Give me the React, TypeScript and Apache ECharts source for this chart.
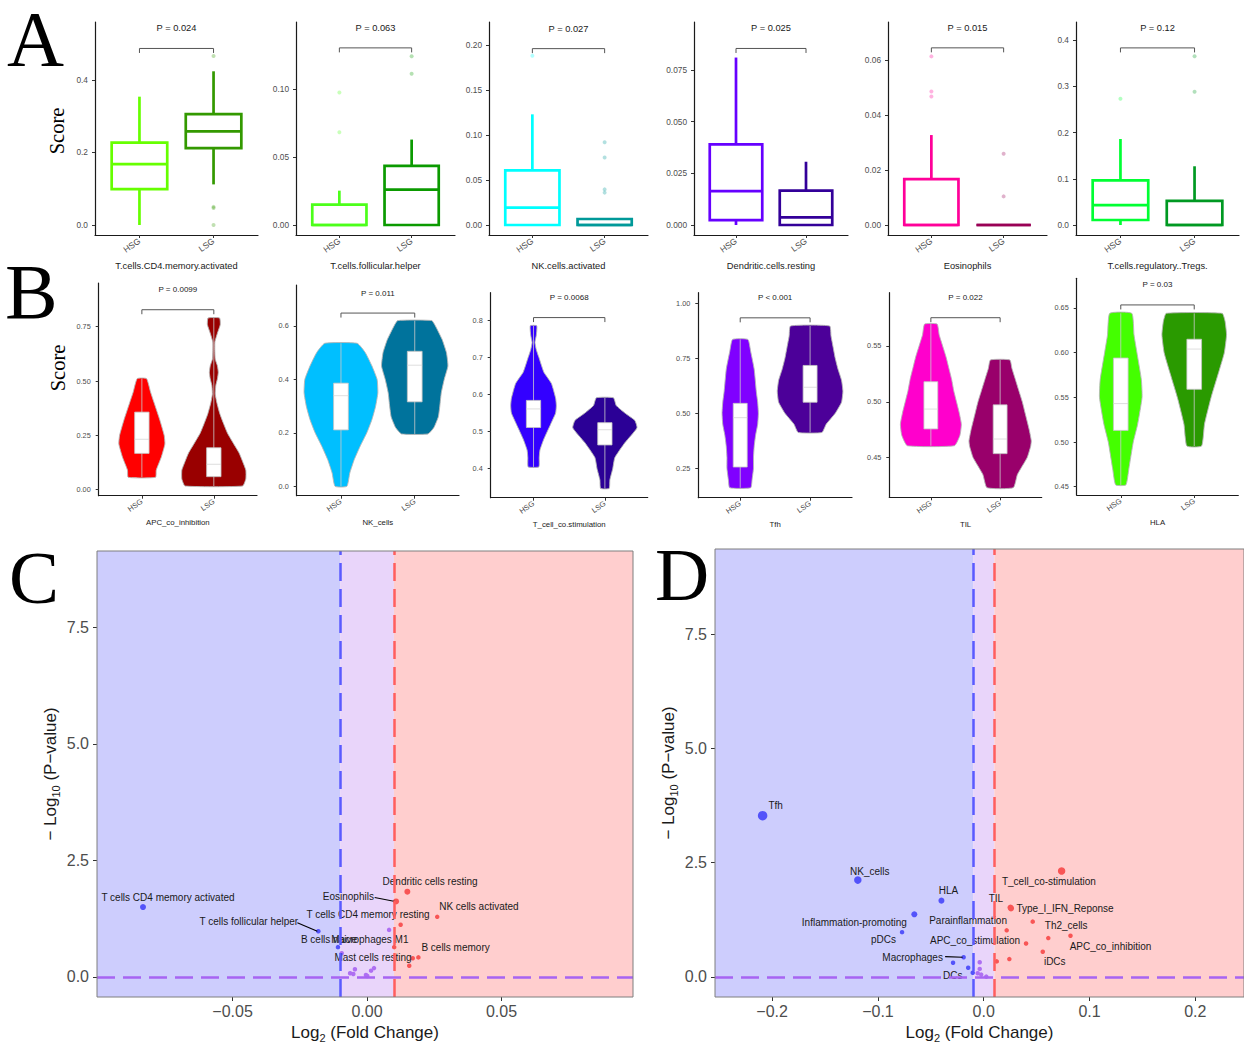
import React, { useEffect, useRef } from "react";
import * as echarts from "echarts";

const SANS = "'Liberation Sans', Arial, Helvetica, sans-serif";
const SERIF = "'Liberation Serif', 'Times New Roman', serif";

const groups = ["HSG", "LSG"];
const groupPos = [1, 2];

// ---------- Panel A : box plots ----------
const boxNames = [
  "T.cells.CD4.memory.activated",
  "T.cells.follicular.helper",
  "NK.cells.activated",
  "Dendritic.cells.resting",
  "Eosinophils",
  "T.cells.regulatory..Tregs.",
];
const boxP = ["P = 0.024", "P = 0.063", "P = 0.027", "P = 0.025", "P = 0.015", "P = 0.12"];
const boxYTicks = [
  ["0.0", "0.2", "0.4"],
  ["0.00", "0.05", "0.10"],
  ["0.00", "0.05", "0.10", "0.15", "0.20"],
  ["0.000", "0.025", "0.050", "0.075"],
  ["0.00", "0.02", "0.04", "0.06"],
  ["0.0", "0.1", "0.2", "0.3", "0.4"],
];
const boxYRange = [
  [-0.0276, 0.56],
  [-0.00735, 0.149],
  [-0.0111, 0.2256],
  [-0.00484, 0.0982],
  [-0.00364, 0.0738],
  [-0.0216, 0.439],
];
// [min, Q1, median, Q3, max]
const boxHSG = [
  [0, 0.099, 0.168, 0.227, 0.354],
  [0, 0, 0, 0.0149, 0.0252],
  [0, 0, 0.0193, 0.0607, 0.123],
  [0, 0.0024, 0.0164, 0.039, 0.081],
  [0, 0, 0, 0.0167, 0.0327],
  [0, 0.0108, 0.0432, 0.0966, 0.186],
];
const boxLSG = [
  [0.112, 0.212, 0.258, 0.306, 0.424],
  [0, 0, 0.026, 0.0434, 0.0627],
  [0, 0, 0, 0.0067, 0.0067],
  [0, 0, 0.0037, 0.0166, 0.0306],
  [0, 0, 0, 0, 0],
  [0, 0, 0, 0.052, 0.127],
];
const boxOutHSG = [[], [0.0973, 0.068], [0.188], [], [0.0613, 0.0485, 0.0467], [0.273]];
const boxOutLSG = [[0.466, 0.05, 0.047, 0.0], [0.1238, 0.111], [0.092, 0.075, 0.0396, 0.036], [], [0.0259, 0.0104], [0.365, 0.288]];
const boxBracket = [0.487, 0.13, 0.196, 0.0854, 0.0644, 0.383];

// ---------- Panel B : violins ----------
const violinNames = ["APC_co_inhibition", "NK_cells", "T_cell_co.stimulation", "Tfh", "TIL", "HLA"];
const violinP = ["P = 0.0099", "P = 0.011", "P = 0.0068", "P < 0.001", "P = 0.022", "P = 0.03"];
const violinYTicks = [
  ["0.00", "0.25", "0.50", "0.75"],
  ["0.0", "0.2", "0.4", "0.6"],
  ["0.4", "0.5", "0.6", "0.7", "0.8"],
  ["0.25", "0.50", "0.75", "1.00"],
  ["0.45", "0.50", "0.55"],
  ["0.45", "0.50", "0.55", "0.60", "0.65"],
];
const violinYRange = [
  [-0.0276, 0.951],
  [-0.035, 0.753],
  [0.322, 0.874],
  [0.117, 1.047],
  [0.4145, 0.5977],
  [0.4407, 0.6832],
];
const violinBracket = [0.828, 0.648, 0.807, 0.933, 0.5753, 0.6534];
// [Q1, median, Q3]
const violinBoxHSG = [
  [0.167, 0.232, 0.357],
  [0.211, 0.339, 0.386],
  [0.511, 0.561, 0.584],
  [0.256, 0.48, 0.545],
  [0.4757, 0.4935, 0.518],
  [0.513, 0.543, 0.594],
];
const violinBoxLSG = [
  [0.06, 0.117, 0.193],
  [0.316, 0.453, 0.505],
  [0.464, 0.505, 0.524],
  [0.55, 0.618, 0.717],
  [0.4536, 0.4667, 0.4973],
  [0.559, 0.604, 0.615],
];
// density profiles: [value, half-width density]
const violinDensHSG = [
  [[0.057, 0.19], [0.09, 0.2], [0.15, 0.27], [0.21, 0.32], [0.25, 0.31], [0.32, 0.25], [0.4, 0.17], [0.45, 0.12], [0.511, 0.065]],
  [[0.0, 0.08], [0.05, 0.12], [0.1, 0.18], [0.15, 0.26], [0.2, 0.35], [0.25, 0.42], [0.3, 0.47], [0.35, 0.5], [0.4, 0.49], [0.45, 0.42], [0.5, 0.33], [0.535, 0.22]],
  [[0.405, 0.075], [0.43, 0.08], [0.45, 0.09], [0.48, 0.145], [0.52, 0.24], [0.55, 0.31], [0.57, 0.32], [0.59, 0.31], [0.63, 0.25], [0.66, 0.145], [0.7, 0.075], [0.72, 0.04], [0.74, 0.02], [0.76, 0.04], [0.785, 0.045]],
  [[0.162, 0.15], [0.2, 0.17], [0.25, 0.19], [0.3, 0.19], [0.35, 0.2], [0.4, 0.22], [0.45, 0.25], [0.5, 0.26], [0.55, 0.25], [0.6, 0.23], [0.7, 0.2], [0.78, 0.15], [0.835, 0.11]],
  [[0.4607, 0.34], [0.47, 0.42], [0.48, 0.44], [0.49, 0.41], [0.5, 0.37], [0.51, 0.33], [0.52, 0.3], [0.53, 0.26], [0.54, 0.22], [0.55, 0.17], [0.56, 0.12], [0.5696, 0.09]],
  [[0.452, 0.07], [0.47, 0.11], [0.5, 0.17], [0.52, 0.23], [0.55, 0.29], [0.57, 0.28], [0.6, 0.22], [0.62, 0.18], [0.644, 0.15]],
];
const violinDensLSG = [
  [[0.017, 0.4], [0.05, 0.445], [0.09, 0.445], [0.13, 0.4], [0.17, 0.35], [0.22, 0.26], [0.26, 0.19], [0.3, 0.14], [0.35, 0.083], [0.4, 0.042], [0.44, 0.02], [0.48, 0.028], [0.51, 0.05], [0.54, 0.062], [0.57, 0.05], [0.6, 0.02], [0.64, 0.014], [0.68, 0.015], [0.72, 0.05], [0.76, 0.09], [0.79, 0.08]],
  [[0.196, 0.18], [0.22, 0.26], [0.26, 0.32], [0.3, 0.34], [0.35, 0.36], [0.4, 0.4], [0.45, 0.45], [0.5, 0.43], [0.55, 0.37], [0.6, 0.28], [0.62, 0.23]],
  [[0.347, 0.06], [0.37, 0.07], [0.4, 0.11], [0.43, 0.14], [0.47, 0.28], [0.51, 0.45], [0.53, 0.42], [0.55, 0.28], [0.57, 0.16], [0.591, 0.12]],
  [[0.413, 0.17], [0.45, 0.23], [0.5, 0.36], [0.55, 0.45], [0.6, 0.47], [0.65, 0.45], [0.7, 0.4], [0.75, 0.36], [0.8, 0.33], [0.85, 0.3], [0.896, 0.28]],
  [[0.4231, 0.19], [0.435, 0.25], [0.45, 0.39], [0.46, 0.44], [0.465, 0.45], [0.475, 0.42], [0.49, 0.36], [0.5, 0.32], [0.51, 0.27], [0.52, 0.22], [0.53, 0.17], [0.5375, 0.14]],
  [[0.4955, 0.1], [0.52, 0.14], [0.55, 0.23], [0.58, 0.34], [0.6, 0.41], [0.62, 0.44], [0.635, 0.42], [0.644, 0.38]],
];

// ---------- Panels C & D : volcano ----------
const threshold = 0.01;
const volcanoYTicks = ["0.0", "2.5", "5.0", "7.5"];
const cXTicks = ["\u22120.05", "0.00", "0.05"];
const cXRange = [-0.1004, 0.0989];
const cYRange = [-0.43, 9.14];
const cX = [-0.0833, -0.0181, -0.0108, -0.0094, 0.0082, -0.0063, -0.0045, -0.0051, -0.0004, 0.0001, 0.0015, 0.0026, 0.0108, 0.015, 0.0261, 0.0125, 0.0101, 0.0191, 0.017, 0.0157];
const cY = [1.5, 0.98, 0.64, 0.51, 1.01, 0.08, 0.165, 0.064, 0.043, 0.02, 0.135, 0.19, 1.62, 1.83, 1.29, 1.12, 0.64, 0.42, 0.4, 0.24];
const cNames = [
  "T cells CD4 memory activated", "T cells follicular helper", "B cells naive", "Mast cells resting", "T cells CD4 memory resting",
  "", "", "", "", "", "", "",
  "Eosinophils", "Dendritic cells resting", "NK cells activated", "", "Macrophages M1", "B cells memory", "", "",
];
const dXTicks = ["\u22120.2", "\u22120.1", "0.0", "0.1", "0.2"];
const dXRange = [-0.254, 0.246];
const dYRange = [-0.44, 9.37];
const dX = [-0.209, -0.119, -0.04, -0.0656, -0.0772, -0.019, -0.029, -0.0147, -0.0104, -0.0038, -0.0038, -0.0057, -0.0024, 0.0024, 0.0736, 0.0253, 0.0258, 0.0463, 0.0217, 0.061, 0.082, 0.04, 0.0558, 0.0242, 0.0123];
const dY = [3.53, 2.12, 1.67, 1.37, 0.98, 0.43, 0.31, 0.2, 0.09, 0.32, 0.175, 0.08, 0.05, 0.006, 2.32, 1.52, 1.5, 1.21, 1.02, 0.85, 0.9, 0.73, 0.55, 0.39, 0.34];
const dNames = [
  "Tfh", "NK_cells", "HLA", "Inflammation-promoting", "pDCs", "Macrophages", "", "", "DCs",
  "", "", "", "", "",
  "T_cell_co-stimulation", "TIL", "Type_I_IFN_Reponse", "Th2_cells", "Parainflammation", "", "APC_co_inhibition", "APC_co_stimulation", "iDCs", "", "",
];
const cLegend = ["P>=0.05", "P<0.05", "P<0.01"];
const dLegend = ["P>=0.05", "P<0.05", "P<0.01", "P<0.001"];

// ---------- styles / layout (not data) ----------
const boxColors = [
  ["#66FF00", "#339900"],
  ["#4CFF1A", "#0B9A00"],
  ["#00FFFF", "#009999"],
  ["#6600FF", "#330099"],
  ["#FF0099", "#990055"],
  ["#00FF33", "#009922"],
];
const violinColors = [
  ["#FF0000", "#990000"],
  ["#00BFFF", "#00739C"],
  ["#3300FF", "#2B0096"],
  ["#8000FF", "#4C0099"],
  ["#FF00CC", "#99006B"],
  ["#44FF00", "#2A9A00"],
];
const rowAGeom = [[95, 258], [296, 455], [489, 648], [694, 848], [888, 1047], [1076, 1239]];
const rowBGeom = [
  [98.7, 257, 283, 495.7],
  [296.7, 459, 285, 495.7],
  [490.7, 647.7, 292.7, 497.7],
  [698.3, 852, 292.7, 497.7],
  [889.3, 1041.7, 292.7, 497.3],
  [1076.7, 1238.3, 278.3, 495],
];
const cOffsets: any[] = [[25, -10], [-69.5, -9.3], [-9, -7.3], [31.3, 4.4], [-21, -15], null, null, null, null, null, null, null, [-47.7, -4.7], [22.7, -9.7], [41.7, -10], null, [-24.3, -7.3], [37.2, -9.6], null, null];
const cLeaders: any = { 1: [-21, -8.6], 12: [-21.4, -4] };
const dOffsets: any[] = [[13, -10], [12, -9], [7, -10], [-60, 8.4], [-18.5, 7.7], [-51, 0], null, null, [-20, 2.3], null, null, null, null, null, [-12.7, 11], [-14.6, -8.7], [54, 0.3], [33.5, 4], [-38.6, -9.6], null, [40, 10.3], [-51, -2.7], [12, 9.7], null, null];
const dLeaders: any = { 5: [-18.5, -0.6] };
const regionFill = ["#CDCDFD", "#E9D5FA", "#FFCECE"];

const parseTick = (t: string) => parseFloat(t.replace("\u2212", "-"));

function sizeFor(y: number) {
  if (y >= 3) return 9.5;
  if (y >= 2) return 7.5;
  if (y >= 1.301) return 6;
  return 4.5;
}
function colorFor(x: number) {
  if (x < -threshold) return "#5353FA";
  if (x > threshold) return "#F85555";
  return "#AE6FF2";
}

function makeXCat(gi: number, name: string, labelSize: number, nameSize: number, nameGap: number) {
  return {
    type: "value",
    gridIndex: gi,
    min: 0.4,
    max: 2.6,
    name,
    nameLocation: "middle",
    nameGap,
    nameTextStyle: { fontSize: nameSize, color: "#1a1a1a", fontFamily: SANS },
    axisLine: { show: true, onZero: false, lineStyle: { color: "#1a1a1a", width: 1.2 } },
    axisTick: { show: true, customValues: groupPos, length: 3, lineStyle: { color: "#333" } },
    axisLabel: {
      customValues: groupPos,
      formatter: (v: number) => groups[Math.round(v) - 1] ?? "",
      rotate: 35,
      fontSize: labelSize,
      color: "#4d4d4d",
      margin: 5,
      fontFamily: SANS,
    },
    splitLine: { show: false },
  };
}

function makeY(gi: number, range: number[], ticks: string[], size: number, margin: number, lineShow = true, tickLen = 3) {
  const vals = ticks.map(parseTick);
  return {
    type: "value",
    gridIndex: gi,
    min: range[0],
    max: range[1],
    axisLine: { show: lineShow, onZero: false, lineStyle: { color: "#1a1a1a", width: 1.2 } },
    axisTick: { show: true, customValues: vals, length: tickLen, lineStyle: { color: "#333" } },
    axisLabel: {
      customValues: vals,
      formatter: (v: number) => {
        const k = vals.findIndex((x) => Math.abs(x - v) < 1e-9);
        return k >= 0 ? ticks[k] : "";
      },
      fontSize: size,
      color: "#4d4d4d",
      margin,
      fontFamily: SANS,
    },
    splitLine: { show: false },
  };
}

function bracketSeries(gi: number, y: number, label: string, fontSize: number) {
  return {
    type: "custom",
    xAxisIndex: gi,
    yAxisIndex: gi,
    silent: true,
    z: 5,
    data: [[1, y, 2]],
    renderItem: (_p: any, api: any) => {
      const a = api.coord([api.value(0), api.value(1)]);
      const b = api.coord([api.value(2), api.value(1)]);
      return {
        type: "group",
        children: [
          {
            type: "polyline",
            shape: { points: [[a[0], a[1] + 4.5], a, b, [b[0], b[1] + 4.5]] },
            style: { stroke: "#555", lineWidth: 1, fill: "none" },
          },
          {
            type: "text",
            style: {
              text: label,
              x: (a[0] + b[0]) / 2,
              y: a[1] - 20,
              align: "center",
              verticalAlign: "middle",
              fontSize,
              fontFamily: SANS,
              fill: "#1a1a1a",
            },
          },
        ],
      };
    },
  };
}

function buildOption() {
  const grids: any[] = [];
  const xAxes: any[] = [];
  const yAxes: any[] = [];
  const series: any[] = [];
  const gridBase = { containLabel: false, outerBoundsMode: "none" };

  // Row A
  boxNames.forEach((name, i) => {
    const [l, r] = rowAGeom[i];
    const gi = grids.length;
    grids.push({ ...gridBase, left: l, top: 22, width: r - l, height: 213 });
    xAxes.push(makeXCat(gi, name, 8.5, 9.3, 26));
    yAxes.push(makeY(gi, boxYRange[i], boxYTicks[i], 8.3, 7));
    const cols = boxColors[i];
    series.push({
      type: "custom",
      xAxisIndex: gi,
      yAxisIndex: gi,
      silent: true,
      z: 3,
      data: [
        [1, ...boxHSG[i]],
        [2, ...boxLSG[i]],
      ],
      renderItem: (p: any, api: any) => {
        const x = api.value(0);
        const mn = api.value(1), q1 = api.value(2), md = api.value(3), q3 = api.value(4), mx = api.value(5);
        const c = cols[p.dataIndex];
        const hw = 0.375;
        const tl = api.coord([x - hw, q3]);
        const br = api.coord([x + hw, q1]);
        const cx = api.coord([x, 0])[0];
        const yMx = api.coord([x, mx])[1];
        const yMn = api.coord([x, mn])[1];
        const yMd = api.coord([x, md])[1];
        const st = { stroke: c, lineWidth: 2.7, fill: "none" };
        return {
          type: "group",
          children: [
            { type: "line", shape: { x1: cx, y1: tl[1], x2: cx, y2: yMx }, style: st },
            { type: "line", shape: { x1: cx, y1: br[1], x2: cx, y2: yMn }, style: st },
            {
              type: "rect",
              shape: { x: tl[0], y: tl[1], width: br[0] - tl[0], height: br[1] - tl[1] },
              style: { stroke: c, lineWidth: 2.7, fill: "#fff" },
            },
            { type: "line", shape: { x1: tl[0], y1: yMd, x2: br[0], y2: yMd }, style: st },
          ],
        };
      },
    });
    [boxOutHSG[i], boxOutLSG[i]].forEach((outs, g) => {
      series.push({
        type: "scatter",
        xAxisIndex: gi,
        yAxisIndex: gi,
        silent: true,
        z: 4,
        symbolSize: 4,
        itemStyle: { color: cols[g], opacity: 0.3 },
        data: outs.map((v) => [groupPos[g], v]),
      });
    });
    series.push(bracketSeries(gi, boxBracket[i], boxP[i], 9.3));
  });

  // Row B
  violinNames.forEach((name, i) => {
    const [l, r, t, b] = rowBGeom[i];
    const gi = grids.length;
    grids.push({ ...gridBase, left: l, top: t, width: r - l, height: b - t });
    xAxes.push(makeXCat(gi, name, 7.5, 7.8, 23));
    yAxes.push(makeY(gi, violinYRange[i], violinYTicks[i], 7.3, 8));
    const cols = violinColors[i];
    const dens = [violinDensHSG[i], violinDensLSG[i]];
    const boxes = [violinBoxHSG[i], violinBoxLSG[i]];
    series.push({
      type: "custom",
      xAxisIndex: gi,
      yAxisIndex: gi,
      silent: true,
      z: 3,
      data: [
        [1, ...boxes[0]],
        [2, ...boxes[1]],
      ],
      renderItem: (p: any, api: any) => {
        const g = p.dataIndex;
        const x = api.value(0);
        const prof = dens[g];
        const right = prof.map(([v, w]: number[]) => api.coord([x + w, v]));
        const left = prof.map(([v, w]: number[]) => api.coord([x - w, v])).reverse();
        const q1 = api.value(1), md = api.value(2), q3 = api.value(3);
        const tl = api.coord([x - 0.1, q3]);
        const br = api.coord([x + 0.1, q1]);
        const cx = api.coord([x, 0])[0];
        const yTop = api.coord([x, prof[prof.length - 1][0]])[1];
        const yBot = api.coord([x, prof[0][0]])[1];
        const yMd = api.coord([x, md])[1];
        return {
          type: "group",
          children: [
            {
              type: "polygon",
              shape: { points: [...right, ...left], smooth: 0.15 },
              style: { fill: cols[g], stroke: "#b5b5b5", lineWidth: 0.9 },
            },
            { type: "line", shape: { x1: cx, y1: yTop, x2: cx, y2: yBot }, style: { stroke: "#c9c9c9", lineWidth: 0.8 } },
            {
              type: "rect",
              shape: { x: tl[0], y: tl[1], width: br[0] - tl[0], height: br[1] - tl[1] },
              style: { fill: "#fff", stroke: "#c4c4c4", lineWidth: 0.8 },
            },
            { type: "line", shape: { x1: tl[0], y1: yMd, x2: br[0], y2: yMd }, style: { stroke: "#d6d6d6", lineWidth: 0.8 } },
          ],
        };
      },
    });
    series.push(bracketSeries(gi, violinBracket[i], violinP[i], 8));
  });

  // Volcano panels
  const volcano = (
    geom: number[],
    xr: number[],
    yr: number[],
    xTicks: string[],
    xs: number[],
    ys: number[],
    names: string[],
    offsets: any[],
    leaders: any
  ) => {
    const gi = grids.length;
    grids.push({
      ...gridBase,
      left: geom[0],
      top: geom[1],
      width: geom[2],
      height: geom[3],
      show: true,
      borderColor: "#7f7f7f",
      borderWidth: 1,
      backgroundColor: "transparent",
      z: 10,
    });
    const xv = xTicks.map(parseTick);
    xAxes.push({
      type: "value",
      gridIndex: gi,
      min: xr[0],
      max: xr[1],
      name: "Log{s|2} (Fold Change)",
      nameLocation: "middle",
      nameGap: 24,
      nameTextStyle: {
        fontSize: 17,
        color: "#1a1a1a",
        fontFamily: SANS,
        lineHeight: 22,
        rich: { s: { fontSize: 11, fontFamily: SANS, color: "#1a1a1a", verticalAlign: "bottom", lineHeight: 14 } },
      },
      axisLine: { show: false, onZero: false },
      axisTick: { show: true, customValues: xv, length: 4, lineStyle: { color: "#333" } },
      axisLabel: {
        customValues: xv,
        formatter: (v: number) => {
          const k = xv.findIndex((x) => Math.abs(x - v) < 1e-9);
          return k >= 0 ? xTicks[k] : "";
        },
        fontSize: 16,
        color: "#4d4d4d",
        margin: 6,
        fontFamily: SANS,
      },
      splitLine: { show: false },
    });
    const yAx: any = makeY(gi, yr, volcanoYTicks, 16, 8, false, 4);
    yAx.name = "\u2212 Log{s|10} (P\u2212value)";
    yAx.nameLocation = "middle";
    yAx.nameGap = 36;
    yAx.nameTextStyle = {
      fontSize: 17,
      color: "#1a1a1a",
      fontFamily: SANS,
      lineHeight: 22,
      rich: { s: { fontSize: 11, fontFamily: SANS, color: "#1a1a1a", verticalAlign: "bottom", lineHeight: 14 } },
    };
    yAxes.push(yAx);

    series.push({
      type: "custom",
      xAxisIndex: gi,
      yAxisIndex: gi,
      silent: true,
      z: 1,
      data: [
        [xr[0], -threshold, 0],
        [-threshold, threshold, 1],
        [threshold, xr[1], 2],
      ],
      renderItem: (_p: any, api: any) => {
        const a = api.coord([api.value(0), yr[1]]);
        const b = api.coord([api.value(1), yr[0]]);
        return {
          type: "rect",
          shape: { x: a[0], y: a[1], width: b[0] - a[0], height: b[1] - a[1] },
          style: { fill: regionFill[api.value(2)] },
        };
      },
    });
    series.push({
      type: "line",
      xAxisIndex: gi,
      yAxisIndex: gi,
      data: [],
      silent: true,
      z: 2,
      markLine: {
        silent: true,
        symbol: ["none", "none"],
        label: { show: false },
        animation: false,
        data: [
          { xAxis: -threshold, lineStyle: { color: "#5A5AFF", width: 2.5, type: [18, 8] } },
          { xAxis: threshold, lineStyle: { color: "#FF5E5E", width: 2.5, type: [18, 8] } },
          { yAxis: 0, lineStyle: { color: "#A764F2", width: 2.5, type: [18, 8] } },
        ],
      },
    });
    series.push({
      type: "scatter",
      xAxisIndex: gi,
      yAxisIndex: gi,
      silent: true,
      z: 3,
      data: xs.map((x, i) => [x, ys[i]]),
      symbolSize: (v: number[]) => sizeFor(v[1]),
      itemStyle: { color: (p: any) => colorFor(p.value[0]), opacity: 1 },
    });
    const labelled = names.map((n, i) => (n ? [xs[i], ys[i], i] : null)).filter(Boolean);
    series.push({
      type: "custom",
      xAxisIndex: gi,
      yAxisIndex: gi,
      silent: true,
      z: 4,
      data: labelled,
      renderItem: (_p: any, api: any) => {
        const i = api.value(2);
        const pt = api.coord([api.value(0), api.value(1)]);
        const off = offsets[i] || [0, -10];
        const children: any[] = [
          {
            type: "text",
            style: {
              text: names[i],
              x: pt[0] + off[0],
              y: pt[1] + off[1],
              align: "center",
              verticalAlign: "middle",
              fontSize: 10,
              fontFamily: SANS,
              fill: "#1a1a1a",
            },
          },
        ];
        if (leaders[i]) {
          children.push({
            type: "line",
            shape: { x1: pt[0] + leaders[i][0], y1: pt[1] + leaders[i][1], x2: pt[0] - 1, y2: pt[1] },
            style: { stroke: "#000", lineWidth: 1.1 },
          });
        }
        return { type: "group", children };
      },
    });
  };

  volcano([97, 551, 536, 446], cXRange, cYRange, cXTicks, cX, cY, cNames, cOffsets, cLeaders);
  volcano([715, 549, 529, 448], dXRange, dYRange, dXTicks, dX, dY, dNames, dOffsets, dLeaders);

  // graphic annotations
  const txt = (text: string, x: number, y: number, fontSize: number, fontFamily: string, align = "left", extra: any = {}, lineHeight?: number) => ({
    type: "text",
    x,
    y,
    ...extra,
    style: { text, fontSize, fontFamily, fill: "#000", align, verticalAlign: "middle", ...(lineHeight ? { lineHeight } : {}) },
  });
  const legendSizes = [4.6, 6, 7.6, 9];
  const elements: any[] = [
    txt("A", 7, 38, 79, SERIF, "left", {}, 58),
    txt("B", 5, 291, 79, SERIF, "left", {}, 58),
    txt("C", 9, 577, 75, SERIF, "left", {}, 56),
    txt("D", 655, 574, 75, SERIF, "left", {}, 56),
    txt("Score", 57, 131, 20.5, SERIF, "center", { rotation: Math.PI / 2 }),
    txt("Score", 58, 368, 20.5, SERIF, "center", { rotation: Math.PI / 2 }),
    txt("Low SPP1 expression group", 324.5, 582, 15.5, SERIF, "right"),
    txt("High SPP1 expression group", 411.5, 582, 15.5, SERIF, "left"),
    txt("Low SPP1 expression group", 963.5, 580, 15.5, SERIF, "right"),
    txt("High SPP1 expression group", 1005.5, 580, 15.5, SERIF, "left"),
  ];
  cLegend.forEach((t, k) => {
    elements.push({ type: "circle", shape: { cx: 491.5, cy: 619.5 + 24 * k, r: legendSizes[k] / 2 }, style: { fill: "#707070" } });
    elements.push({ type: "text", x: 510, y: 619.5 + 24 * k, style: { text: t, fontSize: 16.5, fontFamily: SANS, fill: "#1a1a1a", align: "left", verticalAlign: "middle" } });
  });
  dLegend.forEach((t, k) => {
    elements.push({ type: "circle", shape: { cx: 1109, cy: 607 + 24.3 * k, r: legendSizes[k] / 2 }, style: { fill: "#707070" } });
    elements.push({ type: "text", x: 1129, y: 607 + 24.3 * k, style: { text: t, fontSize: 16.5, fontFamily: SANS, fill: "#1a1a1a", align: "left", verticalAlign: "middle" } });
  });

  return {
    animation: false,
    backgroundColor: "#ffffff",
    textStyle: { fontFamily: SANS },
    grid: grids,
    xAxis: xAxes,
    yAxis: yAxes,
    series,
    graphic: { elements },
  };
}

export default function App() {
  const ref = useRef<HTMLDivElement>(null);
  useEffect(() => {
    if (!ref.current) return;
    const chart = echarts.init(ref.current, undefined, { renderer: "svg" });
    chart.setOption(buildOption() as any);
    return () => chart.dispose();
  }, []);
  return (
    <div
      ref={ref}
      style={{ position: "absolute", left: 0, top: 0, width: 1244, height: 1042, background: "#fff" }}
    />
  );
}
